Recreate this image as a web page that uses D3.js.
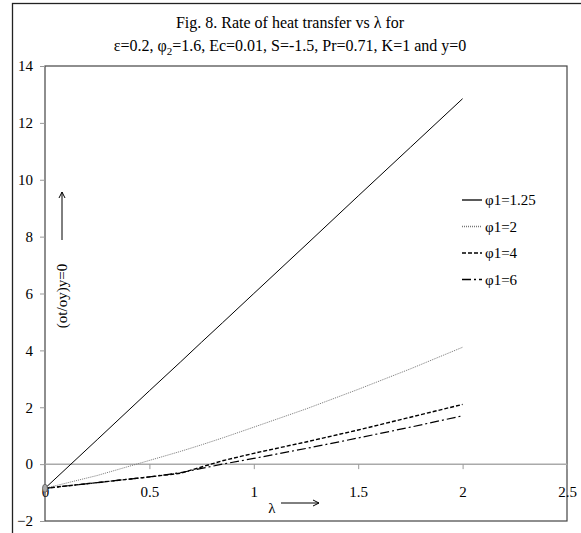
<!DOCTYPE html>
<html>
<head>
<meta charset="utf-8">
<script src="https://cdn.jsdelivr.net/npm/d3@7"></script>
<style>
  body { margin: 0; background: #fff; }
  svg { display: block; font-family: "Liberation Serif", "Times New Roman", serif; }
  .tick line { stroke: #999; }
  .domain { display: none; }
</style>
</head>
<body>
<script>
"use strict";

///////////////////
// data
///////////////////
var lambdaVals = [0, 0.25, 0.5, 0.65, 0.75, 0.85, 1, 1.25, 1.5, 1.75, 2];
var phi125 = [-0.85, 0.86, 2.58, 3.60, 4.29, 4.97, 6.0, 7.71, 9.43, 11.14, 12.85];
var phi2 = [-0.85, -0.4, 0.13, 0.45, 0.68, 0.92, 1.3, 1.94, 2.63, 3.35, 4.11];
var phi4 = [-0.85, -0.65, -0.45, -0.32, -0.1, 0.12, 0.38, 0.78, 1.2, 1.65, 2.1];
var phi6 = [-0.85, -0.65, -0.45, -0.3, -0.15, 0.0, 0.2, 0.55, 0.92, 1.3, 1.7];
var seriesNames = ["\u03c61=1.25", "\u03c61=2", "\u03c61=4", "\u03c61=6"];
var xTicks = [0, 0.5, 1, 1.5, 2, 2.5];
var yTicks = [-2, 0, 2, 4, 6, 8, 10, 12, 14];

// line styles per series
var styles = [
    { stroke: "#000", width: 1, dash: null },
    { stroke: "#777", width: 1, dash: "1,1" },
    { stroke: "#000", width: 1.4, dash: "4,2" },
    { stroke: "#000", width: 1.2, dash: "9,3,2,3" }
];

var W = 581, H = 533;
var svg = d3.select("body").append("svg").attr("width", W).attr("height", H);

// outer frame (cut off at right and bottom)
svg.append("rect")
    .attr("x", 12.5).attr("y", 3.5)
    .attr("width", 700).attr("height", 700)
    .attr("fill", "none").attr("stroke", "#222").attr("stroke-width", 1.3);

///////////////////
// title
///////////////////
svg.append("text")
    .attr("x", 290).attr("y", 28)
    .attr("text-anchor", "middle")
    .style("font-size", "16px")
    .text("Fig. 8. Rate of heat transfer vs \u03bb for");
var t2 = svg.append("text")
    .attr("x", 290).attr("y", 51)
    .attr("text-anchor", "middle")
    .style("font-size", "16px");
t2.append("tspan").text("\u03b5=0.2, \u03c6");
t2.append("tspan").attr("dy", 4).style("font-size", "11px").text("2");
t2.append("tspan").attr("dy", -4).text("=1.6, Ec=0.01, S=-1.5, Pr=0.71, K=1 and y=0");

///////////////////
// scales
///////////////////
var x = d3.scaleLinear().domain([0, 2.5]).range([45, 567]);
var y = d3.scaleLinear().domain([-2, 14]).range([521, 66]);

// plot border
svg.append("rect")
    .attr("x", x(0)).attr("y", y(14))
    .attr("width", x(2.5) - x(0)).attr("height", y(-2) - y(14))
    .attr("fill", "none").attr("stroke", "#444").attr("stroke-width", 1.2);

// y axis
var yAxis = svg.append("g")
    .attr("transform", "translate(" + x(0) + ",0)")
    .call(d3.axisLeft(y).tickValues(yTicks).tickSize(5).tickPadding(7).tickFormat(d3.format("d")))
    .attr("font-family", null).attr("font-size", null);
yAxis.selectAll("text").style("font-size", "15px").attr("fill", "#000");

// zero line + x axis
svg.append("line")
    .attr("x1", x(0)).attr("x2", x(2.5))
    .attr("y1", y(0)).attr("y2", y(0))
    .attr("stroke", "#aaa").attr("stroke-width", 1.5);
var xAxis = svg.append("g")
    .attr("transform", "translate(0," + y(0) + ")")
    .call(d3.axisBottom(x).tickValues(xTicks).tickSize(5).tickFormat(function(d) { return String(d); }))
    .attr("font-family", null).attr("font-size", null);
xAxis.selectAll("text")
    .attr("y", 22)
    .style("font-size", "15px").attr("fill", "#000");

///////////////////
// lines
///////////////////
var allSeries = [phi125, phi2, phi4, phi6];
var line = d3.line()
    .x(function(d) { return x(d[0]); })
    .y(function(d) { return y(d[1]); });

allSeries.forEach(function(vals, i) {
    var pts = lambdaVals.map(function(l, j) { return [l, vals[j]]; });
    svg.append("path")
        .datum(pts)
        .attr("d", line)
        .attr("fill", "none")
        .attr("stroke", styles[i].stroke)
        .attr("stroke-width", styles[i].width)
        .attr("stroke-dasharray", styles[i].dash);
});

// start marker at origin
svg.append("ellipse")
    .attr("cx", x(0)).attr("cy", y(phi125[0]))
    .attr("rx", 2.5).attr("ry", 4)
    .attr("fill", "#aaa").attr("stroke", "#555").attr("stroke-width", 0.8);

///////////////////
// legend
///////////////////
var legend = svg.append("g").attr("transform", "translate(462,200)");
seriesNames.forEach(function(name, i) {
    var g = legend.append("g").attr("transform", "translate(0," + (i * 26.5) + ")");
    g.append("line")
        .attr("x1", 0).attr("x2", 20).attr("y1", 0).attr("y2", 0)
        .attr("stroke", styles[i].stroke)
        .attr("stroke-width", styles[i].width + 0.3)
        .attr("stroke-dasharray", styles[i].dash);
    g.append("text")
        .attr("x", 23).attr("y", 5)
        .style("font-size", "15px")
        .text(name);
});

///////////////////
// axis labels with arrows
///////////////////
function arrowHead(x0, y0, dir) {
    // open arrowhead; dir "up" or "right"
    var p = dir === "up"
        ? [[x0 - 3, y0 + 6], [x0, y0], [x0 + 3, y0 + 6]]
        : [[x0 - 6, y0 - 3], [x0, y0], [x0 - 6, y0 + 3]];
    svg.append("path")
        .attr("d", d3.line()(p))
        .attr("fill", "none").attr("stroke", "#000").attr("stroke-width", 1);
}

svg.append("text")
    .attr("x", 272).attr("y", 513)
    .attr("text-anchor", "middle")
    .style("font-size", "15px")
    .text("\u03bb");
svg.append("line")
    .attr("x1", 281).attr("x2", 319).attr("y1", 503).attr("y2", 503)
    .attr("stroke", "#000");
arrowHead(319, 503, "right");

svg.append("text")
    .attr("transform", "translate(67,296) rotate(-90)")
    .attr("text-anchor", "middle")
    .style("font-size", "15px")
    .text("(ot/oy)y=0");
svg.append("line")
    .attr("x1", 62).attr("x2", 62).attr("y1", 240).attr("y2", 192)
    .attr("stroke", "#000");
arrowHead(62, 192, "up");
</script>
</body>
</html>
